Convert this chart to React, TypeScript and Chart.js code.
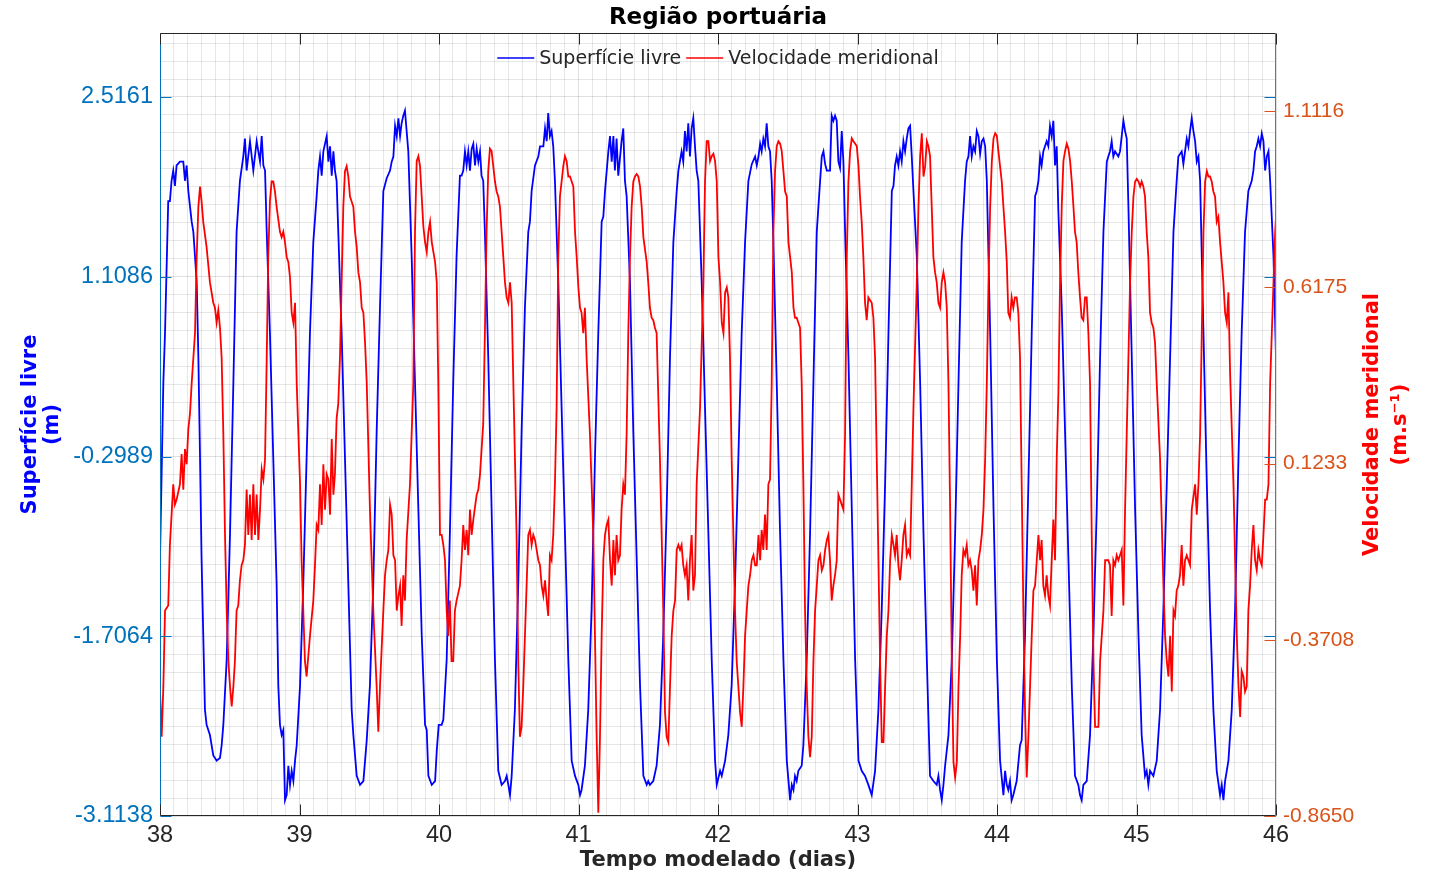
import React, { useEffect, useRef } from 'react';
import { Chart, registerables } from 'chart.js';

Chart.register(...registerables);

const FONT = "'DejaVu Sans', 'Liberation Sans', sans-serif";
const TICK_FONT = "'Liberation Sans', Arial, sans-serif";

const chartTitle = 'Região portuária';
const xTitle = 'Tempo modelado (dias)';
const leftTitle = ['Superfície livre', '(m)'];
const rightTitle = ['Velocidade meridional', '(m.s⁻¹)'];
const legendLabels = ['Superfície livre', 'Velocidade meridional'];

const xRange = [38, 46];
const xMajorTicks = [38, 39, 40, 41, 42, 43, 44, 45, 46];
const leftTicks = [-3.1138, -1.7064, -0.2989, 1.1086, 2.5161];
const leftRange = [-3.1138, 3.0172];
const rightTicks = [-0.865, -0.3708, 0.1233, 0.6175, 1.1116];
const rightRange = [-0.865, 1.3303];

// Superfície livre (m): [dia, valor]
const surfaceA: [number, number][] = [[38.000,-1.10],[38.024,0.28],[38.036,0.67],[38.059,1.70],[38.071,1.70],[38.083,1.86],[38.095,1.94],[38.107,1.82],[38.119,1.98],[38.143,2.01],[38.167,2.01],[38.179,1.86],[38.191,1.98],[38.203,1.78],[38.215,1.66],[38.227,1.54],[38.239,1.46],[38.263,1.07],[38.275,0.48],[38.287,-0.31],[38.298,-1.10],[38.310,-1.69],[38.322,-2.28],[38.334,-2.40],[38.358,-2.48],[38.382,-2.64],[38.406,-2.68],[38.430,-2.66],[38.442,-2.56],[38.454,-2.40],[38.478,-1.89],[38.502,-0.90],[38.526,0.28],[38.549,1.46],[38.573,1.86],[38.597,2.05],[38.609,2.19],[38.621,1.94],[38.645,2.17],[38.669,1.94],[38.693,2.17],[38.717,2.01],[38.729,2.21],[38.741,1.98],[38.753,1.94],[38.765,1.46],[38.788,0.67],[38.812,-0.31],[38.836,-1.30],[38.848,-2.09],[38.860,-2.40],[38.872,-2.48],[38.884,-2.44],[38.896,-2.99],[38.908,-2.95],[38.920,-2.72],[38.932,-2.87],[38.944,-2.76],[38.956,-2.84],[38.968,-2.68],[38.980,-2.56],[39.004,-2.09],[39.027,-1.30],[39.051,-0.31],[39.075,0.67],[39.099,1.38],[39.123,1.74],[39.135,1.94],[39.147,2.05],[39.159,1.90],[39.171,2.09],[39.195,2.21],[39.207,2.01],[39.219,2.13],[39.231,1.90],[39.243,2.09],[39.254,1.94],[39.266,1.86],[39.278,1.46],[39.302,0.67],[39.326,-0.31],[39.350,-1.30],[39.374,-2.28],[39.386,-2.48],[39.410,-2.80],[39.434,-2.87],[39.458,-2.84],[39.482,-2.52],[39.505,-2.09],[39.529,-1.30],[39.553,-0.11],[39.577,0.87],[39.601,1.78],[39.625,1.88],[39.649,1.94],[39.661,2.01],[39.673,2.05],[39.685,2.29],[39.697,2.21],[39.709,2.35],[39.721,2.21],[39.732,2.31],[39.744,2.37],[39.756,2.41],[39.768,2.25],[39.780,2.09],[39.804,1.27],[39.828,0.28],[39.852,-0.71],[39.876,-1.69],[39.900,-2.40],[39.912,-2.44],[39.924,-2.80],[39.948,-2.87],[39.972,-2.84],[39.984,-2.60],[39.998,-2.40]];
const surfaceB: [number, number][] = [[40.019,-2.40],[40.031,-2.36],[40.055,-1.89],[40.078,-0.90],[40.102,0.28],[40.126,1.27],[40.150,1.90],[40.162,1.90],[40.174,1.94],[40.186,2.09],[40.198,1.98],[40.210,2.09],[40.222,1.94],[40.234,2.11],[40.246,2.15],[40.258,1.98],[40.270,2.11],[40.282,2.01],[40.294,2.09],[40.305,1.90],[40.317,1.86],[40.329,1.46],[40.353,0.48],[40.377,-0.71],[40.401,-1.89],[40.425,-2.76],[40.449,-2.87],[40.473,-2.84],[40.485,-2.80],[40.497,-2.87],[40.509,-2.95],[40.521,-2.80],[40.544,-2.28],[40.568,-1.30],[40.592,-0.11],[40.616,0.87],[40.640,1.46],[40.652,1.54],[40.664,1.78],[40.688,1.98],[40.712,2.05],[40.724,2.13],[40.748,2.13],[40.760,2.27],[40.772,2.17],[40.783,2.39],[40.795,2.21],[40.807,2.25],[40.819,2.13],[40.831,1.86],[40.855,1.07],[40.879,0.08],[40.903,-0.90],[40.927,-1.89],[40.951,-2.68],[40.975,-2.80],[40.999,-2.87],[41.011,-2.95],[41.022,-2.91],[41.046,-2.72],[41.070,-2.28],[41.094,-1.49],[41.118,-0.31],[41.142,0.67],[41.166,1.54],[41.178,1.58],[41.190,1.78],[41.214,2.09],[41.226,2.21],[41.238,2.01],[41.250,2.21],[41.261,1.94],[41.273,2.19],[41.285,1.90],[41.309,2.17],[41.321,2.27],[41.333,1.86],[41.345,1.74],[41.369,1.07],[41.393,-0.11],[41.417,-1.10],[41.441,-2.09],[41.465,-2.80],[41.489,-2.87],[41.500,-2.84],[41.512,-2.87],[41.536,-2.84],[41.560,-2.72],[41.584,-2.40],[41.608,-1.69],[41.632,-0.71],[41.656,0.48],[41.680,1.38],[41.704,1.78],[41.716,1.94],[41.739,2.09],[41.751,2.01],[41.763,2.25],[41.775,2.09],[41.787,2.31],[41.799,2.05],[41.811,2.27],[41.823,2.35],[41.835,2.13],[41.847,1.94],[41.859,1.86],[41.883,1.07],[41.907,0.08],[41.931,-0.90],[41.955,-1.89],[41.979,-2.68],[41.991,-2.87]];
const surfaceC: [number, number][] = [[42.015,-2.76],[42.027,-2.80],[42.051,-2.68],[42.074,-2.48],[42.098,-2.09],[42.122,-1.30],[42.146,-0.31],[42.170,0.67],[42.194,1.38],[42.218,1.86],[42.242,1.99],[42.266,2.05],[42.278,1.98],[42.290,2.05],[42.302,2.15],[42.313,2.09],[42.325,2.19],[42.337,2.13],[42.349,2.31],[42.361,2.13],[42.373,2.09],[42.385,1.86],[42.397,1.38],[42.421,0.28],[42.445,-0.90],[42.469,-1.89],[42.493,-2.68],[42.517,-2.99],[42.529,-2.87],[42.541,-2.91],[42.552,-2.80],[42.564,-2.84],[42.576,-2.76],[42.600,-2.72],[42.612,-2.56],[42.636,-1.89],[42.660,-0.90],[42.684,0.28],[42.708,1.46],[42.732,1.86],[42.744,2.05],[42.756,2.09],[42.768,1.99],[42.780,1.94],[42.803,1.94],[42.815,2.37],[42.827,2.33],[42.839,2.37],[42.851,2.33],[42.863,2.01],[42.875,1.96],[42.887,2.25],[42.899,2.01],[42.911,1.46],[42.935,0.48],[42.959,-0.71],[42.983,-1.89],[43.007,-2.68],[43.030,-2.76],[43.054,-2.80],[43.078,-2.87],[43.102,-2.95],[43.126,-2.76],[43.150,-2.28],[43.174,-1.49],[43.198,-0.51],[43.222,0.67],[43.246,1.78],[43.258,1.82],[43.269,1.98],[43.281,2.05],[43.293,1.98],[43.305,2.09],[43.317,2.01],[43.329,2.17],[43.341,2.09],[43.353,2.19],[43.365,2.27],[43.377,2.29],[43.389,2.05],[43.401,1.78],[43.425,1.27],[43.449,0.28],[43.473,-0.90],[43.497,-1.89],[43.520,-2.80],[43.544,-2.84],[43.568,-2.87],[43.580,-2.80],[43.592,-2.91],[43.604,-2.99],[43.616,-2.87],[43.628,-2.72],[43.652,-2.48],[43.676,-1.89],[43.700,-0.90],[43.724,0.28],[43.747,1.38],[43.771,1.86],[43.783,2.01],[43.795,2.05],[43.807,2.21],[43.819,2.05],[43.831,2.13],[43.843,2.09],[43.855,2.25],[43.867,2.21],[43.879,2.07],[43.891,2.17],[43.903,2.19],[43.915,2.13],[43.927,1.86],[43.951,0.67],[43.975,-0.71],[43.999,-1.89]];
const surfaceD: [number, number][] = [[44.022,-2.68],[44.046,-2.95],[44.058,-2.76],[44.070,-2.87],[44.081,-2.91],[44.093,-2.84],[44.105,-2.99],[44.117,-2.95],[44.141,-2.84],[44.165,-2.56],[44.177,-2.52],[44.201,-1.69],[44.225,-0.51],[44.249,0.67],[44.273,1.74],[44.285,1.78],[44.297,1.86],[44.309,2.05],[44.320,1.98],[44.332,2.09],[44.344,2.13],[44.356,2.17],[44.368,2.13],[44.380,2.29],[44.392,2.21],[44.404,2.33],[44.416,1.98],[44.428,2.13],[44.440,1.62],[44.464,0.87],[44.488,-0.11],[44.512,-1.10],[44.536,-2.09],[44.559,-2.80],[44.583,-2.87],[44.595,-2.95],[44.607,-2.99],[44.619,-2.87],[44.643,-2.84],[44.667,-2.48],[44.691,-1.69],[44.715,-0.71],[44.739,0.48],[44.763,1.46],[44.787,2.01],[44.798,2.05],[44.810,2.09],[44.822,2.17],[44.834,2.05],[44.846,2.09],[44.870,2.05],[44.882,2.09],[44.894,2.21],[44.906,2.33],[44.918,2.25],[44.930,2.19],[44.942,1.66],[44.966,0.48],[44.990,-0.71],[45.014,-1.69],[45.037,-2.48],[45.061,-2.80],[45.073,-2.76],[45.085,-2.87],[45.097,-2.76],[45.121,-2.80],[45.145,-2.68],[45.169,-2.28],[45.193,-1.49],[45.217,-0.51],[45.241,0.48],[45.265,1.46],[45.288,1.86],[45.300,2.05],[45.324,2.09],[45.336,1.99],[45.348,2.09],[45.360,2.19],[45.372,2.13],[45.384,2.25],[45.396,2.35],[45.408,2.25],[45.420,2.17],[45.432,2.01],[45.444,2.05],[45.456,1.86],[45.480,0.67],[45.504,-0.51],[45.527,-1.49],[45.551,-2.28],[45.575,-2.76],[45.599,-2.95],[45.611,-2.87],[45.623,-2.99],[45.635,-2.84],[45.659,-2.68],[45.683,-2.28],[45.707,-1.49],[45.731,-0.31],[45.754,0.67],[45.778,1.46],[45.802,1.78],[45.826,1.86],[45.838,1.94],[45.850,2.09],[45.862,2.13],[45.874,2.19],[45.886,2.13],[45.898,2.23],[45.910,2.17],[45.922,1.94],[45.934,2.05],[45.946,2.09],[45.958,1.86],[45.982,1.27],[46.000,0.48]];

// Velocidade meridional (m/s): [dia, valor]
const velocityA: [number, number][] = [[38.000,-0.516],[38.012,-0.643],[38.024,-0.502],[38.036,-0.289],[38.059,-0.275],[38.071,-0.105],[38.083,-0.020],[38.095,0.065],[38.107,0.008],[38.119,0.022],[38.143,0.065],[38.155,0.150],[38.167,0.050],[38.179,0.164],[38.191,0.121],[38.203,0.220],[38.215,0.263],[38.227,0.348],[38.251,0.489],[38.263,0.702],[38.275,0.843],[38.287,0.900],[38.298,0.858],[38.310,0.801],[38.334,0.730],[38.358,0.631],[38.382,0.574],[38.394,0.560],[38.406,0.518],[38.418,0.553],[38.430,0.504],[38.442,0.419],[38.454,0.206],[38.466,-0.077],[38.478,-0.289],[38.490,-0.431],[38.502,-0.502],[38.514,-0.558],[38.526,-0.502],[38.537,-0.431],[38.549,-0.289],[38.561,-0.275],[38.573,-0.204],[38.585,-0.162],[38.597,-0.148],[38.609,-0.105],[38.621,0.050],[38.633,-0.077],[38.645,0.036],[38.657,-0.091],[38.669,0.065],[38.681,-0.077],[38.693,0.036],[38.705,-0.091],[38.717,-0.006],[38.729,0.107],[38.741,0.079],[38.753,0.135],[38.765,0.419],[38.776,0.702],[38.788,0.858],[38.800,0.914],[38.812,0.914],[38.824,0.886],[38.836,0.843],[38.860,0.773],[38.872,0.758],[38.884,0.773],[38.896,0.744],[38.908,0.702],[38.920,0.688],[38.932,0.645],[38.944,0.546],[38.956,0.518],[38.968,0.574],[38.980,0.348],[39.004,0.065],[39.015,-0.148],[39.027,-0.289],[39.039,-0.431],[39.051,-0.474],[39.063,-0.417],[39.075,-0.360],[39.099,-0.261],[39.111,-0.162],[39.123,-0.049],[39.135,-0.063],[39.147,0.065],[39.159,-0.049],[39.171,0.121],[39.183,-0.006],[39.195,0.093],[39.207,0.079],[39.219,-0.020],[39.231,0.192],[39.243,0.036],[39.254,0.093],[39.266,0.249],[39.278,0.291],[39.290,0.419],[39.302,0.631],[39.314,0.843],[39.326,0.943],[39.338,0.957],[39.350,0.928],[39.362,0.872],[39.386,0.843],[39.398,0.773],[39.410,0.730],[39.422,0.659],[39.434,0.631],[39.446,0.560],[39.458,0.546],[39.470,0.461],[39.482,0.348],[39.505,-0.006],[39.529,-0.289],[39.553,-0.502],[39.565,-0.629],[39.577,-0.502],[39.601,-0.289],[39.613,-0.190],[39.625,-0.148],[39.637,-0.119],[39.649,0.008],[39.661,-0.020],[39.673,-0.134],[39.685,-0.148],[39.697,-0.289],[39.709,-0.247],[39.721,-0.219],[39.732,-0.332],[39.744,-0.190],[39.756,-0.261],[39.768,-0.091],[39.792,0.065],[39.816,0.348],[39.828,0.773],[39.840,0.971],[39.852,0.985],[39.864,0.957],[39.876,0.872],[39.888,0.787],[39.900,0.744],[39.912,0.716],[39.924,0.773],[39.936,0.801],[39.948,0.744],[39.960,0.716],[39.972,0.688],[39.984,0.631]];
const velocityB: [number, number][] = [[39.995,0.348],[40.007,-0.077],[40.019,-0.077],[40.031,-0.105],[40.043,-0.148],[40.055,-0.289],[40.066,-0.360],[40.078,-0.261],[40.090,-0.431],[40.102,-0.431],[40.114,-0.289],[40.126,-0.261],[40.150,-0.219],[40.162,-0.148],[40.174,-0.049],[40.186,-0.119],[40.198,-0.063],[40.210,-0.134],[40.222,-0.006],[40.234,-0.077],[40.246,-0.034],[40.270,0.036],[40.282,0.050],[40.294,0.093],[40.317,0.235],[40.329,0.489],[40.341,0.773],[40.353,0.943],[40.365,1.006],[40.377,0.999],[40.389,0.957],[40.401,0.914],[40.413,0.886],[40.425,0.872],[40.437,0.843],[40.449,0.773],[40.461,0.702],[40.473,0.631],[40.485,0.589],[40.497,0.574],[40.509,0.631],[40.521,0.574],[40.533,0.348],[40.556,-0.077],[40.568,-0.431],[40.580,-0.643],[40.592,-0.615],[40.604,-0.502],[40.616,-0.360],[40.628,-0.219],[40.640,-0.077],[40.652,-0.063],[40.664,-0.105],[40.676,-0.077],[40.688,-0.091],[40.700,-0.119],[40.712,-0.148],[40.724,-0.162],[40.736,-0.219],[40.748,-0.247],[40.760,-0.204],[40.772,-0.261],[40.783,-0.304],[40.795,-0.134],[40.807,-0.148],[40.819,-0.077],[40.831,0.065],[40.843,0.277],[40.855,0.702],[40.867,0.872],[40.879,0.914],[40.891,0.957],[40.903,0.985],[40.915,0.971],[40.927,0.928],[40.939,0.928],[40.951,0.914],[40.963,0.900],[40.975,0.773],[40.987,0.702],[40.999,0.617],[41.011,0.560],[41.022,0.546],[41.034,0.489],[41.046,0.560],[41.058,0.419],[41.082,0.206],[41.106,-0.077],[41.118,-0.360],[41.130,-0.643],[41.142,-0.856],[41.154,-0.643],[41.166,-0.360],[41.178,-0.148],[41.190,-0.077],[41.202,-0.049],[41.214,-0.034],[41.226,-0.148],[41.238,-0.219],[41.250,-0.091],[41.261,-0.190],[41.273,-0.077],[41.285,-0.148],[41.297,-0.134],[41.309,-0.006],[41.321,0.065],[41.333,0.036],[41.345,0.206],[41.357,0.489],[41.369,0.702],[41.381,0.843],[41.393,0.914],[41.405,0.928],[41.417,0.935],[41.429,0.928],[41.441,0.900],[41.453,0.843],[41.465,0.758],[41.489,0.688],[41.500,0.631],[41.512,0.560],[41.524,0.532],[41.536,0.525],[41.548,0.504],[41.560,0.489],[41.584,0.135],[41.608,-0.289],[41.620,-0.573],[41.632,-0.643],[41.644,-0.658],[41.656,-0.502],[41.668,-0.360],[41.680,-0.289],[41.692,-0.261],[41.704,-0.119],[41.716,-0.105],[41.728,-0.119],[41.739,-0.105],[41.751,-0.162],[41.763,-0.190],[41.775,-0.162],[41.787,-0.261],[41.799,-0.148],[41.811,-0.077],[41.823,-0.233],[41.835,-0.190],[41.847,0.065],[41.871,0.277],[41.895,0.631],[41.907,0.914],[41.919,1.027],[41.931,1.027],[41.943,0.971],[41.955,0.985],[41.967,0.992],[41.979,0.971],[41.991,0.914]];
const velocityC: [number, number][] = [[42.003,0.702],[42.015,0.631],[42.027,0.518],[42.039,0.489],[42.051,0.603],[42.063,0.617],[42.074,0.589],[42.086,0.419],[42.098,0.135],[42.110,-0.077],[42.122,-0.289],[42.134,-0.431],[42.146,-0.502],[42.158,-0.573],[42.170,-0.615],[42.182,-0.502],[42.194,-0.360],[42.206,-0.289],[42.218,-0.219],[42.230,-0.190],[42.242,-0.148],[42.254,-0.134],[42.266,-0.162],[42.278,-0.162],[42.290,-0.077],[42.302,-0.148],[42.313,-0.063],[42.325,-0.119],[42.337,-0.020],[42.349,-0.119],[42.361,0.065],[42.373,0.079],[42.385,0.348],[42.397,0.773],[42.409,0.943],[42.421,1.013],[42.433,1.027],[42.445,1.020],[42.457,0.999],[42.469,0.943],[42.481,0.886],[42.493,0.872],[42.505,0.744],[42.517,0.702],[42.529,0.659],[42.541,0.560],[42.552,0.532],[42.564,0.532],[42.576,0.518],[42.588,0.504],[42.600,0.348],[42.612,0.065],[42.624,-0.289],[42.636,-0.502],[42.648,-0.643],[42.660,-0.700],[42.672,-0.643],[42.684,-0.431],[42.696,-0.289],[42.708,-0.219],[42.720,-0.148],[42.732,-0.134],[42.744,-0.176],[42.756,-0.162],[42.768,-0.119],[42.780,-0.091],[42.791,-0.077],[42.803,-0.148],[42.815,-0.261],[42.827,-0.219],[42.839,-0.190],[42.851,-0.148],[42.863,0.036],[42.875,0.022],[42.887,0.008],[42.899,-0.006],[42.911,0.206],[42.923,0.702],[42.935,0.914],[42.947,0.999],[42.959,1.035],[42.971,1.027],[42.995,1.013],[43.007,0.957],[43.018,0.872],[43.030,0.801],[43.042,0.702],[43.054,0.574],[43.066,0.525],[43.078,0.589],[43.090,0.581],[43.102,0.574],[43.114,0.532],[43.126,0.419],[43.138,0.135],[43.150,-0.148],[43.162,-0.431],[43.174,-0.658],[43.186,-0.658],[43.198,-0.502],[43.210,-0.360],[43.222,-0.289],[43.234,-0.148],[43.246,-0.077],[43.258,-0.105],[43.269,-0.134],[43.281,-0.077],[43.293,-0.162],[43.305,-0.204],[43.317,-0.148],[43.329,-0.077],[43.341,-0.049],[43.353,-0.134],[43.365,-0.119],[43.377,-0.134],[43.389,0.065],[43.401,0.277],[43.425,0.631],[43.437,0.843],[43.449,0.985],[43.461,1.049],[43.473,0.928],[43.485,0.957],[43.497,1.027],[43.508,1.013],[43.520,0.985],[43.532,0.843],[43.544,0.702],[43.556,0.659],[43.568,0.631],[43.580,0.574],[43.592,0.560],[43.604,0.631],[43.616,0.659],[43.628,0.631],[43.640,0.560],[43.652,0.348],[43.664,-0.006],[43.676,-0.431],[43.688,-0.714],[43.700,-0.757],[43.712,-0.714],[43.724,-0.502],[43.736,-0.360],[43.747,-0.190],[43.759,-0.119],[43.771,-0.134],[43.783,-0.105],[43.795,-0.162],[43.807,-0.148],[43.819,-0.176],[43.831,-0.233],[43.843,-0.162],[43.855,-0.275],[43.867,-0.148],[43.879,-0.119],[43.891,-0.077],[43.903,-0.006],[43.915,0.135],[43.927,0.348],[43.939,0.631],[43.951,0.843],[43.963,0.971],[43.975,1.035],[43.987,1.049],[43.999,1.042]];
const velocityD: [number, number][] = [[44.010,0.999],[44.034,0.914],[44.046,0.843],[44.058,0.773],[44.070,0.688],[44.081,0.546],[44.093,0.532],[44.105,0.589],[44.117,0.560],[44.129,0.589],[44.141,0.589],[44.153,0.546],[44.165,0.419],[44.177,0.065],[44.189,-0.289],[44.201,-0.573],[44.213,-0.757],[44.225,-0.643],[44.237,-0.502],[44.249,-0.360],[44.261,-0.233],[44.273,-0.219],[44.285,-0.148],[44.297,-0.077],[44.309,-0.148],[44.320,-0.091],[44.332,-0.219],[44.344,-0.247],[44.356,-0.190],[44.368,-0.247],[44.380,-0.275],[44.392,-0.148],[44.404,-0.034],[44.416,-0.148],[44.428,0.135],[44.440,0.319],[44.452,0.631],[44.464,0.843],[44.476,0.971],[44.488,0.999],[44.500,1.020],[44.512,1.006],[44.524,0.971],[44.536,0.914],[44.548,0.843],[44.559,0.773],[44.571,0.744],[44.583,0.659],[44.595,0.589],[44.607,0.532],[44.619,0.525],[44.631,0.589],[44.643,0.589],[44.655,0.489],[44.667,0.348],[44.679,-0.077],[44.691,-0.431],[44.703,-0.615],[44.715,-0.615],[44.727,-0.615],[44.739,-0.431],[44.751,-0.360],[44.763,-0.289],[44.775,-0.148],[44.787,-0.148],[44.798,-0.148],[44.810,-0.162],[44.822,-0.304],[44.834,-0.148],[44.846,-0.162],[44.858,-0.134],[44.870,-0.148],[44.882,-0.134],[44.894,-0.119],[44.906,-0.275],[44.918,-0.006],[44.930,0.206],[44.942,0.419],[44.954,0.631],[44.966,0.773],[44.978,0.872],[44.990,0.914],[45.002,0.921],[45.014,0.914],[45.026,0.900],[45.037,0.914],[45.049,0.900],[45.061,0.872],[45.073,0.773],[45.085,0.702],[45.097,0.546],[45.109,0.518],[45.121,0.504],[45.133,0.461],[45.145,0.348],[45.169,0.135],[45.193,-0.219],[45.205,-0.360],[45.217,-0.431],[45.229,-0.474],[45.241,-0.360],[45.253,-0.516],[45.265,-0.289],[45.276,-0.304],[45.288,-0.233],[45.300,-0.219],[45.312,-0.190],[45.324,-0.105],[45.336,-0.219],[45.348,-0.148],[45.360,-0.134],[45.372,-0.148],[45.384,-0.162],[45.396,-0.006],[45.420,0.065],[45.432,-0.020],[45.444,0.065],[45.456,0.206],[45.468,0.489],[45.480,0.773],[45.492,0.914],[45.504,0.943],[45.515,0.928],[45.527,0.928],[45.539,0.914],[45.551,0.886],[45.563,0.872],[45.575,0.801],[45.587,0.815],[45.599,0.744],[45.611,0.688],[45.623,0.631],[45.635,0.546],[45.647,0.518],[45.659,0.603],[45.671,0.376],[45.695,0.065],[45.707,-0.148],[45.719,-0.360],[45.731,-0.502],[45.743,-0.587],[45.754,-0.459],[45.766,-0.474],[45.778,-0.516],[45.790,-0.502],[45.802,-0.289],[45.814,-0.219],[45.826,-0.119],[45.838,-0.049],[45.850,-0.148],[45.862,-0.176],[45.874,-0.119],[45.886,-0.148],[45.898,-0.162],[45.910,-0.077],[45.922,0.022],[45.934,0.022],[45.946,0.065],[45.958,0.348],[45.970,0.489],[45.982,0.631],[45.994,0.773],[46.000,0.815]];

const BLUE = '#0000ff';
const RED = '#ff0000';
const LEFT_AXIS = '#0072BD';
const RIGHT_AXIS = '#D95319';
const DARK = '#262626';
const GRID_MAJOR = 'rgba(38,38,38,0.15)';
const GRID_MINOR = 'rgba(38,38,38,0.11)';

const toPoints = (rows: [number, number][]) => rows.map(([x, y]) => ({ x, y }));

const X_MINOR = 10;
const LEFT_STEP = (leftTicks[4] - leftTicks[0]) / 40;

const decorPlugin = {
  id: 'decor',
  afterDraw(chart: any) {
    const { ctx, chartArea: a } = chart;
    const cx = (a.left + a.right) / 2;
    const cy = (a.top + a.bottom) / 2;
    const xs = chart.scales.x;
    const yl = chart.scales.y;
    const yr = chart.scales.y1;
    ctx.save();
    ctx.lineWidth = 1;
    const L = Math.round(a.left) + 0.5, R = Math.round(a.right) - 0.5;
    const T = Math.round(a.top) + 0.5, B = Math.round(a.bottom) - 0.5;
    ctx.strokeStyle = DARK;
    ctx.beginPath(); ctx.moveTo(L, T); ctx.lineTo(R, T); ctx.stroke();
    ctx.beginPath(); ctx.moveTo(L, B); ctx.lineTo(R, B); ctx.stroke();
    ctx.strokeStyle = LEFT_AXIS;
    ctx.beginPath(); ctx.moveTo(L, T); ctx.lineTo(L, B); ctx.stroke();
    ctx.strokeStyle = RIGHT_AXIS;
    ctx.beginPath(); ctx.moveTo(R, T); ctx.lineTo(R, B); ctx.stroke();
    const TL = 11;
    ctx.strokeStyle = DARK;
    xMajorTicks.forEach((v) => {
      const px = Math.round(xs.getPixelForValue(v)) + 0.5;
      ctx.beginPath(); ctx.moveTo(px, B); ctx.lineTo(px, B - TL); ctx.stroke();
      ctx.beginPath(); ctx.moveTo(px, T); ctx.lineTo(px, T + TL); ctx.stroke();
    });
    ctx.strokeStyle = LEFT_AXIS;
    leftTicks.forEach((v) => {
      const py = Math.round(yl.getPixelForValue(v)) + 0.5;
      ctx.beginPath(); ctx.moveTo(L, py); ctx.lineTo(L + TL, py); ctx.stroke();
      ctx.beginPath(); ctx.moveTo(R, py); ctx.lineTo(R - TL, py); ctx.stroke();
    });
    ctx.strokeStyle = RIGHT_AXIS;
    rightTicks.forEach((v) => {
      const py = Math.round(yr.getPixelForValue(v)) + 0.5;
      ctx.beginPath(); ctx.moveTo(R, py); ctx.lineTo(R - TL, py); ctx.stroke();
    });
    ctx.textAlign = 'center';
    ctx.textBaseline = 'middle';
    ctx.fillStyle = '#000000';
    ctx.font = `bold 23px ${FONT}`;
    ctx.fillText(chartTitle, cx, 18);
    ctx.fillStyle = DARK;
    ctx.font = `bold 21px ${FONT}`;
    ctx.fillText(xTitle, cx, 861);
    ctx.save();
    ctx.translate(31, cy);
    ctx.rotate(-Math.PI / 2);
    ctx.fillStyle = '#0000ff';
    ctx.fillText(leftTitle[0], 0, 0);
    ctx.fillText(leftTitle[1], 0, 22);
    ctx.restore();
    ctx.save();
    ctx.translate(1373, cy);
    ctx.rotate(-Math.PI / 2);
    ctx.fillStyle = '#ff0000';
    ctx.fillText(rightTitle[0], 0, 0);
    ctx.fillText(rightTitle[1], 0, 28);
    ctx.restore();
    ctx.font = `19px ${FONT}`;
    const w1 = ctx.measureText(legendLabels[0]).width;
    const w2 = ctx.measureText(legendLabels[1]).width;
    const lineLen = 37, gap = 5;
    const total = lineLen + gap + w1 + gap + lineLen + gap + w2;
    let x0 = cx - total / 2;
    const ly = 58;
    ctx.lineWidth = 1.5;
    ctx.strokeStyle = BLUE;
    ctx.beginPath(); ctx.moveTo(x0, ly); ctx.lineTo(x0 + lineLen, ly); ctx.stroke();
    x0 += lineLen + gap;
    ctx.textAlign = 'left';
    ctx.fillStyle = DARK;
    ctx.fillText(legendLabels[0], x0, ly + 1);
    x0 += w1 + gap;
    ctx.strokeStyle = RED;
    ctx.beginPath(); ctx.moveTo(x0, ly); ctx.lineTo(x0 + lineLen, ly); ctx.stroke();
    x0 += lineLen + gap;
    ctx.fillText(legendLabels[1], x0, ly + 1);
    ctx.restore();
  },
};

export default function App() {
  const ref = useRef<HTMLCanvasElement>(null);
  useEffect(() => {
    const surface = toPoints([...surfaceA, ...surfaceB, ...surfaceC, ...surfaceD]);
    const velocity = toPoints([...velocityA, ...velocityB, ...velocityC, ...velocityD]);
    const chart = new Chart(ref.current as HTMLCanvasElement, {
      type: 'line',
      data: {
        datasets: [
          { label: legendLabels[0], data: surface, borderColor: BLUE, borderWidth: 1.8, pointRadius: 0, tension: 0, yAxisID: 'y', order: 1 },
          { label: legendLabels[1], data: velocity, borderColor: RED, borderWidth: 1.8, pointRadius: 0, tension: 0, yAxisID: 'y1', order: 0 },
        ],
      },
      options: {
        animation: false,
        responsive: false,
        devicePixelRatio: 1,
        layout: { padding: { top: 33, left: 0, right: 0, bottom: 0 } },
        plugins: { legend: { display: false }, title: { display: false }, tooltip: { enabled: false } },
        scales: {
          x: {
            type: 'linear',
            min: xRange[0],
            max: xRange[1],
            border: { display: false },
            grid: { drawTicks: false, color: (c: any) => (c.index % X_MINOR === 0 ? GRID_MAJOR : GRID_MINOR) },
            ticks: {
              autoSkip: false,
              maxRotation: 0,
              minRotation: 0,
              padding: 5,
              color: DARK,
              font: { family: TICK_FONT, size: 23.5 },
              callback: (v: any, i: number) => (i % X_MINOR === 0 ? String(xMajorTicks[i / X_MINOR]) : ''),
            },
            afterBuildTicks: (s: any) => {
              const t = [];
              for (let i = 0; i <= (xRange[1] - xRange[0]) * X_MINOR; i++) t.push({ value: xRange[0] + i / X_MINOR });
              s.ticks = t;
            },
            afterFit: (s: any) => { s.height = 58; },
          },
          y: {
            type: 'linear',
            position: 'left',
            min: leftRange[0],
            max: leftRange[1],
            border: { display: false },
            grid: { drawTicks: false, color: (c: any) => (c.index % 10 === 0 ? GRID_MAJOR : GRID_MINOR) },
            ticks: {
              autoSkip: false,
              padding: 7,
              color: LEFT_AXIS,
              font: { family: TICK_FONT, size: 23.5 },
              callback: (v: any, i: number) => (i % 10 === 0 ? leftTicks[i / 10].toFixed(4) : ''),
            },
            afterBuildTicks: (s: any) => {
              const t = [];
              for (let i = 0; leftTicks[0] + i * LEFT_STEP <= leftRange[1]; i++) t.push({ value: leftTicks[0] + i * LEFT_STEP });
              s.ticks = t;
            },
            afterFit: (s: any) => { s.width = 160; },
          },
          y1: {
            type: 'linear',
            position: 'right',
            min: rightRange[0],
            max: rightRange[1],
            border: { display: false },
            grid: { display: false, drawTicks: false },
            ticks: {
              autoSkip: false,
              padding: 7,
              color: RIGHT_AXIS,
              font: { family: TICK_FONT, size: 21 },
              callback: (v: any) => Number(v).toFixed(4),
            },
            afterBuildTicks: (s: any) => { s.ticks = rightTicks.map((v) => ({ value: v })); },
            afterFit: (s: any) => { s.width = 161; },
          },
        },
      },
      plugins: [decorPlugin],
    } as any);
    return () => chart.destroy();
  }, []);
  return (
    <div style={{ position: 'absolute', left: 0, top: 0, width: 1437, height: 874, background: '#ffffff' }}>
      <canvas ref={ref} width={1437} height={874} style={{ display: 'block', width: 1437, height: 874 }} />
    </div>
  );
}
